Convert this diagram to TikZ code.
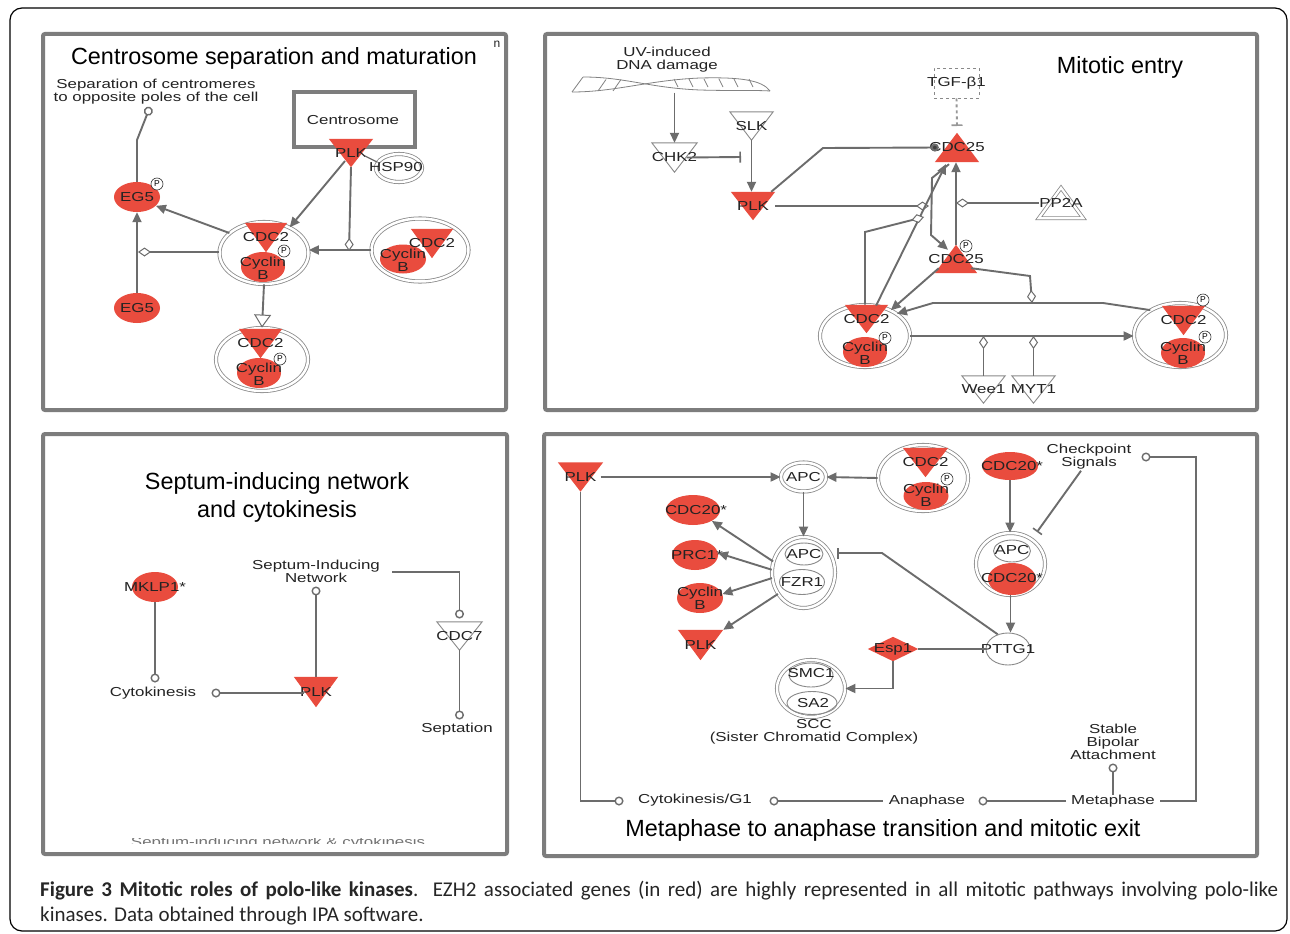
\documentclass[tikz,border=0pt]{standalone}
\usepackage{fontspec}
\setmainfont{Liberation Sans}
\newfontfamily\labff{Liberation Sans}[FakeStretch=1.3]
\newfontfamily\capff{Carlito}
\usetikzlibrary{shapes.geometric,arrows.meta,calc}
\definecolor{plred}{RGB}{233,76,62}
\definecolor{lc}{RGB}{108,108,108}
\definecolor{pb}{RGB}{125,125,125}
\definecolor{tx}{RGB}{35,35,35}
\tikzset{
 lab/.style={inner sep=0pt, text=tx, font=\labff\fontsize{13}{13}\selectfont, align=center},
 ttl/.style={inner sep=0pt, font=\fontsize{23.4}{28}\selectfont, align=center},
 ln/.style={draw=lc, line width=1.9pt},
 tln/.style={draw=lc, line width=1.2pt},
 arr/.style={ln, -{Triangle[length=10pt,width=9pt]}},
 oarr/.style={ln, -{Triangle[fill=white,length=13pt,width=17pt,line width=1pt]}},
 diaend/.style={ln, -{Diamond[fill=white,length=13pt,width=9pt,line width=1pt]}},
 circend/.style={ln, -{Circle[fill=white,length=9pt,line width=1.4pt]}},
 inh/.style={ln, -{Bar[width=11pt,line width=1.6pt]}},
 dotend/.style={ln, -{Circle[length=8pt,fill=black!75]}},
 panel/.style={draw=pb, line width=4pt, rounded corners=2pt},
 dbl/.style={draw=lc!80, line width=0.8pt, double=white, double distance=2.5pt, ellipse, inner sep=0pt},
 sgl/.style={draw=lc!80, line width=0.9pt, ellipse, inner sep=0pt},
 rell/.style={ellipse, fill=plred, inner sep=0pt},
 rtri/.style={fill=plred},
 wtri/.style={fill=white, draw=lc!80, line width=0.9pt},
 pp2astyle/.style={fill=white, draw=lc!80, line width=0.8pt, double=white, double distance=2.2pt},
 pc/.style={circle, draw=black!80, fill=white, line width=0.6pt, inner sep=0pt, minimum size=12pt, font=\fontsize{8.5}{9}\selectfont},
}
\newcommand\DTri[6]{\node[inner sep=0pt,minimum width=#3pt,minimum height=#4pt] (#1) at (#2) {};
 \path[#5] (#1.north west) -- (#1.north east) -- (#1.south) -- cycle;
 \node[lab] (#1t) at (#1) {#6};}
\newcommand\UTri[6]{\node[inner sep=0pt,minimum width=#3pt,minimum height=#4pt] (#1) at (#2) {};
 \path[#5] (#1.south west) -- (#1.south east) -- (#1.north) -- cycle;
 \node[lab] (#1t) at (#1) {#6};}
\begin{document}
\begin{tikzpicture}[x=1pt,y=-1pt]
\useasboundingbox (0,0) rectangle (1290,934);
\fill[white] (0,0) rectangle (1290,934);
\draw[black, line width=1.2pt, rounded corners=12pt] (10,8) rectangle (1287,931);
\draw[panel] (43,34) rectangle (506,410);
\draw[panel] (545,34) rectangle (1257,410);
\draw[panel] (43,434) rectangle (507,854);
\draw[panel] (544,434) rectangle (1257,856);

% ---------------- Panel 1
\node[ttl] (t1) at (274,58) {Centrosome separation and maturation};
\node[inner sep=0pt, text=tx, font=\fontsize{12}{12}\selectfont] (nn) at (497,44) {n};
\node[lab] (sepc) at (156,91.5) {Separation of centromeres\\to opposite poles of the cell};
\coordinate (sepcp) at (150,107);
\node[rell, minimum width=46pt, minimum height=30pt] (eg5a) at (137,197) {};
\node[lab] (eg5at) at (eg5a) {EG5};
\node[pc] (p1) at (157,184) {P};
\node[rell, minimum width=46pt, minimum height=30pt] (eg5b) at (137,308) {};
\node[lab] (eg5bt) at (eg5b) {EG5};
\draw[arr] (eg5b.north) -- (eg5a.south);
\draw[circend] (eg5a.north) -- (137,140) -- (sepcp);

\node[draw=pb, line width=4pt, minimum width=121pt, minimum height=55pt, inner sep=0pt] (centro) at (354.5,119.5) {};
\node[lab] (centrot) at (353,120) {Centrosome};
\node[dbl, minimum width=46pt, minimum height=28pt] (hsp) at (399,168) {};
\node[lab] (hspt) at (396,167) {HSP90};
\DTri{plk1}{351,153}{44}{28}{rtri}{PLK}
\draw[tln] ($(plk1)+(14,3)$) -- (hsp.165);

\node[dbl, minimum width=89pt, minimum height=62pt] (cx1) at (264,253) {};
\node[rell, minimum width=44pt, minimum height=30pt] (cx1c) at (263,267) {};
\DTri{cx1k}{266,237.5}{42}{29}{rtri}{CDC2}
\node[lab] (cx1ct) at (263,268) {Cyclin\\B};
\node[pc] (p2) at (284,251) {P};

\node[dbl, minimum width=97pt, minimum height=63pt] (cx2) at (420,250) {};
\node[rell, minimum width=46pt, minimum height=29pt] (cx2c) at (403,259) {};
\DTri{cx2k}{432,243.5}{42}{29}{rtri}{CDC2}
\node[lab] (cx2ct) at (403,260) {Cyclin\\B};

\node[dbl, minimum width=92pt, minimum height=63pt] (cx3) at (262,359.5) {};
\node[rell, minimum width=44pt, minimum height=30pt] (cx3c) at (259,373) {};
\DTri{cx3k}{260.5,343.5}{43}{29}{rtri}{CDC2}
\node[lab] (cx3ct) at (259,374) {Cyclin\\B};
\node[pc] (p3) at (280,359) {P};

\coordinate (d1) at (138,252);
\draw[diaend] (cx1.west |- d1) -- (d1);
\draw[arr] (cx1.150) -- (eg5a.-25);
\draw[arr] ($(plk1)+(-6,8)$) -- (cx1.45);
\coordinate (d2) at (349,251);
\draw[diaend] (plk1.south) -- (d2);
\draw[arr] (cx2.west) -- (cx2.west -| cx1.east);
\draw[oarr] (cx1.south) -- (cx3.north);

% ---------------- Panel 2
\node[ttl] (t2) at (1120,67) {Mitotic entry};
\node[lab] (uv) at (667,60) {UV-induced\\DNA damage};
\node[inner sep=0pt, minimum width=198pt, minimum height=17pt] (dna) at (671,84) {};
\begin{scope}[lc!85, line width=0.8pt]
\draw (583,77) .. controls (625,77) and (650,88) .. (700,90) .. controls (735,91) and (755,90) .. (770,91);
\draw (572,92) .. controls (615,92) and (650,80) .. (700,78) .. controls (740,77) and (762,80) .. (770,91);
\draw (572,92) -- (583,77);
\foreach \x in {598,613} \draw (\x,91) -- (\x+8,79.5);
\foreach \x in {674,689,704,719,734,749} \draw (\x,79) -- (\x+4,87);
\end{scope}
\DTri{chk2}{674.5,157.5}{45}{29}{wtri}{CHK2}
\DTri{slk}{751.5,126}{43}{28}{wtri}{SLK}
\DTri{plk2}{753,206}{44}{28}{rtri}{PLK}
\draw[arr] (dna.south -| chk2.north) -- (chk2.north);
\draw[arr] (slk.south) -- (slk.south |- plk2.north);
\coordinate (i1) at (741,157);
\draw[inh] ($(chk2)+(12,0)$) -- (i1);

\node[draw=lc!80, dashed, line width=0.8pt, minimum width=45pt, minimum height=30pt, inner sep=0pt] (tgf) at (956.5,83) {};
\node[lab] (tgft) at (956.5,83) {TGF-β1};
\UTri{c25a}{957,147.5}{44}{29}{rtri}{CDC25}
\coordinate (i2) at (957,126);
\draw[inh, draw=lc!70, dashed] (tgf.south) -- (i2);
\UTri{c25b}{956,259}{42}{28}{rtri}{CDC25}
\node[pc] (p4) at (966,246) {P};
\UTri{pp2a}{1061,203}{44}{30}{pp2astyle}{PP2A}

\draw[dotend] ($(plk2.north east)+(-4,0)$) -- (823,148) -- ($(c25a.west)+(4,0)$);
\draw[arr] (c25b.north) -- (c25b.north |- c25a.south);
\draw[arr] ($(c25a.south)+(-8,2)$) -- (932,178) -- (931,235) -- ($(c25b.north)+(-8,5)$);
\draw[diaend] (pp2a.west) -- (pp2a.west -| c25b.north);

\node[dbl, minimum width=90pt, minimum height=62pt] (cx4) at (865,336) {};
\node[rell, minimum width=44pt, minimum height=30pt] (cx4c) at (865,352) {};
\DTri{cx4k}{866.5,319}{43}{28}{rtri}{CDC2}
\node[lab] (cx4ct) at (865,353) {Cyclin\\B};
\node[pc] (p5) at (885,338) {P};

\node[dbl, minimum width=92pt, minimum height=64pt] (cx5) at (1180,335) {};
\node[rell, minimum width=44pt, minimum height=30pt] (cx5c) at (1183,353) {};
\DTri{cx5k}{1183.5,320.5}{43}{29}{rtri}{CDC2}
\node[lab] (cx5ct) at (1183,353) {Cyclin\\B};
\node[pc] (p6) at (1203,300) {P};
\node[pc] (p7) at (1205,337) {P};

\draw[diaend] (plk2.east) -- (929,206);
\draw[arr] (cx4.70) -- (946,164);
\draw[diaend] (cx4.north) -- (865,232) -- (924,217);
\draw[arr] ($(c25b.south west)+(4,-5)$) -- (cx4.45);
\draw[diaend] ($(c25b.south east)+(-6,-5)$) -- (1030,276) -- (1032,303);
\draw[arr] (cx5.140) -- (1103,303) -- (933,303) -- (cx4.35);
\draw[arr] (cx4.east) -- (cx4.east -| cx5.west);

\DTri{wee1}{983.5,389.5}{43}{27}{wtri}{Wee1}
\DTri{myt1}{1033.5,389.5}{43}{27}{wtri}{MYT1}
\draw[diaend] (wee1.north) -- (wee1.north |- cx4.east);
\draw[diaend] (myt1.north) -- (myt1.north |- cx4.east);

% ---------------- Panel 3
\node[ttl] (t3) at (277,497) {Septum-inducing network\\and cytokinesis};
\node[rell, minimum width=46pt, minimum height=30pt] (mklp) at (155,587) {};
\node[lab] (mklpt) at (155,587) {MKLP1*};
\coordinate (cyc) at (155,682.5);
\draw[circend] (mklp.south) -- (cyc);
\node[lab] (cytot) at (153,693) {Cytokinesis};
\DTri{plk3}{316,692}{44}{30}{rtri}{PLK}
\coordinate (cyc2) at (211.5,693);
\draw[circend] ($(plk3)+(-12,1)$) -- (cyc2);
\node[lab] (sint) at (316,571.5) {Septum-Inducing\\Network};
\coordinate (sinc) at (316,586.5);
\draw[circend] (plk3.north) -- (sinc);
\DTri{cdc7}{459.5,636}{45}{28}{wtri}{CDC7}
\coordinate (sinr) at (392,572);
\coordinate (cdc7c) at (459.5,618.5);
\draw[circend] (sinr) -- (459.5,572) -- (cdc7c);
\coordinate (septc) at (459.5,719.5);
\draw[circend] (cdc7.south) -- (septc);
\node[lab] (septt) at (457,729) {Septation};
\begin{scope}
\clip (100,838) rectangle (460,843);
\node[lab, text=black!55] (remn) at (278,843) {Septum-inducing network \& cytokinesis};
\end{scope}

% ---------------- Panel 4
\node[ttl] (t4) at (883,830) {Metaphase to anaphase transition and mitotic exit};
\DTri{plk4}{580.5,477}{45}{29}{rtri}{PLK}
\node[dbl, minimum width=45pt, minimum height=29pt] (apc1) at (803.5,477) {};
\node[lab] (apc1t) at (803.5,477) {APC};
\draw[arr] ($(plk4)+(20,0)$) -- (apc1.west);

\node[dbl, minimum width=90pt, minimum height=66pt] (cx6) at (923,478) {};
\node[rell, minimum width=45pt, minimum height=28pt] (cx6c) at (926,496) {};
\DTri{cx6k}{925.5,462.5}{45}{29}{rtri}{CDC2}
\node[lab] (cx6ct) at (926,495.5) {Cyclin\\B};
\node[pc] (p8) at (947,479) {P};
\draw[arr] (cx6.west) -- (apc1.east);

\node[dbl, minimum width=63pt, minimum height=71pt] (cx7) at (803.5,572.5) {};
\node[sgl, minimum width=38pt, minimum height=22pt] (apc2) at (804,554) {};
\node[sgl, minimum width=45pt, minimum height=25pt] (fzr1) at (802,582) {};
\node[lab] (apc2t) at (804,554) {APC};
\node[lab] (fzr1t) at (802,582) {FZR1};
\draw[arr] (apc1.south) -- (cx7.north);

\node[rell, minimum width=54pt, minimum height=30pt] (cdc20b) at (693,510) {};
\node[lab] (cdc20bt) at (696,510) {CDC20*};
\node[rell, minimum width=46pt, minimum height=30pt] (prc1) at (695,555) {};
\node[lab] (prc1t) at (697,555) {PRC1*};
\node[rell, minimum width=46pt, minimum height=30pt] (cycb) at (700,598) {};
\node[lab] (cycbt) at (700,598.5) {Cyclin\\B};
\DTri{plk5}{700.5,645}{45}{30}{rtri}{PLK}
\draw[arr] (cx7.160) -- (cdc20b.-30);
\draw[arr] (cx7.175) -- (prc1.5);
\draw[arr] (cx7.190) -- (cycb.10);
\draw[arr] (cx7.220) -- (plk5.north east);

\node[sgl, fill=white, minimum width=44pt, minimum height=32pt] (pttg1) at (1008,649) {};
\node[lab] (pttg1t) at (1008,649) {PTTG1};
\coordinate (i3) at (837,553);
\draw[inh] (pttg1.125) -- (882,553) -- (i3);

\node[rell, minimum width=56pt, minimum height=28pt] (cdc20c) at (1010,466) {};
\node[lab] (cdc20ct) at (1012,466) {CDC20*};
\node[dbl, minimum width=69pt, minimum height=62pt] (cx8) at (1010.5,564) {};
\node[sgl, minimum width=37pt, minimum height=22pt] (apc3) at (1012,551) {};
\node[rell, minimum width=48pt, minimum height=32pt] (cdc20d) at (1012,579) {};
\node[lab] (apc3t) at (1012,550) {APC};
\node[lab] (cdc20dt) at (1012,578) {CDC20*};
\draw[arr] (cdc20c.south) -- (cdc20c.south |- cx8.north);
\draw[arr] (cx8.south) -- (cx8.south |- pttg1.north);

\node[inner sep=0pt, minimum width=50pt, minimum height=24pt] (esp1) at (893,649) {};
\fill[plred] (esp1.west) -- (esp1.north) -- (esp1.east) -- (esp1.south) -- cycle;
\node[lab] (esp1t) at (893,649) {Esp1};
\draw[ln] (pttg1.west) -- (esp1.east);

\node[dbl, minimum width=68pt, minimum height=57pt] (cx9) at (811,688.5) {};
\node[sgl, minimum width=44pt, minimum height=24pt] (smc1) at (811,675) {};
\node[sgl, minimum width=50pt, minimum height=23pt] (sa2) at (812,703) {};
\node[lab] (smc1t) at (811,673) {SMC1};
\node[lab] (sa2t) at (813,703) {SA2};
\draw[arr] (esp1.south) -- (esp1.south |- cx9.east) -- (cx9.east);
\node[lab] (scct) at (814,732) {SCC\\(Sister Chromatid Complex)};

\node[lab] (chkt) at (1089,457) {Checkpoint\\Signals};
\coordinate (i4) at (1037,532);
\draw[inh] ($(chkt.south)+(-8,1)$) -- (i4);

\node[lab] (meta) at (1113,801) {Metaphase};
\node[lab] (ana) at (927,801) {Anaphase};
\node[lab] (cytg) at (695,800) {Cytokinesis/G1};
\node[lab] (sbat) at (1113,742) {Stable\\Bipolar\\Attachment};
\coordinate (chkc) at (1141.5,457);
\draw[circend] ($(meta.east)+(5,0)$) -- (1196,801) -- (1196,457) -- (chkc);
\coordinate (sbc) at (1113,763.5);
\draw[circend] (meta.north) -- (sbc);
\coordinate (anac) at (978.5,801);
\draw[circend] ($(meta.west)+(-5,0)$) -- (anac);
\coordinate (cytc) at (769.5,801);
\draw[circend] ($(ana.west)+(-6,0)$) -- (cytc);
\coordinate (plkc) at (623.5,801);
\draw[circend] (plk4.south) -- (plk4.south |- plkc) -- (plkc);

% ---------------- Caption
\node[anchor=base west, inner sep=0pt, text=black!85] (cap1) at (40,896) {\capff\fontsize{21}{24}\selectfont\hbox to 1238pt{\textbf{Figure 3 Mitotic roles of polo-like kinases}. EZH2 associated genes (in red) are highly represented in all mitotic pathways involving polo-like}};
\node[anchor=base west, inner sep=0pt, text=black!85] (cap2) at (40,921.5) {\capff\fontsize{21}{24}\selectfont kinases. Data obtained through IPA software.};
\end{tikzpicture}
\end{document}
